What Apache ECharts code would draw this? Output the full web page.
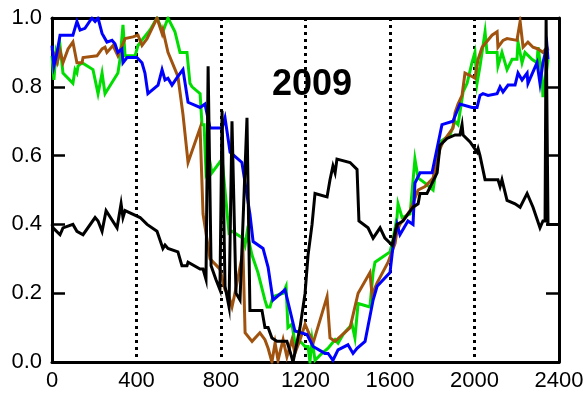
<!DOCTYPE html>
<html>
<head>
<meta charset="utf-8">
<script src="https://cdn.jsdelivr.net/npm/echarts@6/dist/echarts.min.js"></script>
<style>
  html, body { margin: 0; padding: 0; background: #fff; }
  #chart { width: 588px; height: 395px; }
</style>
</head>
<body>
<div id="chart"></div>
<script>
// Axis ticks
const xTicks = [0, 400, 800, 1200, 1600, 2000, 2400];
const yTicks = [0.0, 0.2, 0.4, 0.6, 0.8, 1.0];

// Black series
const blackX = [0,5,38,52,99,118,147,204,218,237,256,308,327,336,346,417,450,497,525,535,549,596,615,639,644,701,715,729,739,753,776,795,805,819,838,852,871,890,923,937,994,1008,1023,1041,1065,1112,1127,1141,1174,1198,1212,1231,1245,1302,1316,1330,1340,1349,1411,1444,1453,1496,1520,1553,1576,1610,1633,1662,1709,1733,1742,1775,1823,1837,1870,1908,1931,1941,1946,1979,2012,2017,2026,2050,2111,2121,2130,2154,2192,2216,2249,2277,2310,2324,2334,2339,2348,2400];
const blackY = [0.40,0.39,0.37,0.39,0.40,0.38,0.37,0.42,0.41,0.38,0.44,0.39,0.46,0.42,0.44,0.42,0.40,0.38,0.33,0.34,0.33,0.32,0.28,0.28,0.29,0.27,0.27,0.24,0.86,0.28,0.24,0.21,0.73,0.22,0.16,0.70,0.20,0.18,0.71,0.15,0.15,0.10,0.10,0.07,0.06,0.06,0.03,0.00,0.10,0.20,0.31,0.40,0.49,0.48,0.53,0.57,0.55,0.59,0.58,0.56,0.41,0.39,0.36,0.39,0.36,0.34,0.40,0.41,0.45,0.46,0.49,0.49,0.55,0.63,0.65,0.66,0.66,0.69,0.66,0.64,0.61,0.62,0.60,0.53,0.53,0.51,0.53,0.47,0.46,0.45,0.49,0.45,0.39,0.41,0.41,1.00,0.40,0.40];

// Green series
const greenX = [0,9,19,28,38,52,99,109,118,123,142,194,218,237,251,312,322,336,346,393,407,431,464,497,525,549,582,606,639,653,663,701,710,720,729,748,757,805,838,852,904,914,923,947,975,1008,1018,1032,1046,1094,1108,1117,1136,1150,1165,1183,1198,1212,1221,1231,1245,1269,1307,1340,1354,1378,1420,1434,1449,1505,1520,1529,1600,1614,1633,1638,1657,1695,1718,1733,1766,1804,1837,1884,1908,1922,1946,1965,1988,2002,2012,2026,2050,2059,2107,2111,2130,2154,2178,2201,2206,2225,2239,2272,2296,2301,2320,2324,2343,2348];
const greenY = [0.89,0.82,0.90,0.88,0.92,0.84,0.81,0.85,0.84,0.86,0.87,0.85,0.78,0.84,0.78,0.84,0.88,0.98,0.89,0.89,0.92,0.94,0.965,1.00,0.96,1.00,0.96,0.90,0.90,0.81,0.80,0.78,0.69,0.69,0.55,0.58,0.55,0.59,0.375,0.38,0.36,0.34,0.375,0.31,0.26,0.18,0.16,0.16,0.19,0.20,0.22,0.10,0.11,0.055,0.065,0.055,0.045,0.045,0.0,0.065,0.005,0.02,0.04,0.065,0.055,0.08,0.11,0.07,0.17,0.16,0.26,0.29,0.32,0.355,0.42,0.46,0.42,0.43,0.59,0.535,0.52,0.50,0.64,0.66,0.70,0.69,0.785,0.81,0.87,0.90,0.81,0.86,0.96,0.90,0.90,0.86,0.90,0.85,0.88,0.88,0.93,0.87,0.90,0.88,0.87,0.915,0.825,0.77,0.855,0.88];

// Brown series
const brownX = [0,24,38,52,76,99,118,142,147,213,237,251,260,289,312,322,346,383,407,426,450,497,521,525,549,596,620,644,701,715,748,795,819,833,852,866,904,914,947,984,1008,1023,1041,1056,1070,1094,1112,1136,1150,1174,1198,1236,1302,1316,1340,1411,1449,1505,1515,1539,1591,1624,1633,1647,1695,1733,1766,1804,1837,1851,1898,1908,1922,1941,1955,1988,2002,2017,2036,2083,2107,2111,2135,2154,2201,2216,2230,2253,2277,2301,2324,2343,2348];
const brownY = [0.91,0.87,0.905,0.87,0.91,0.93,0.87,0.87,0.885,0.89,0.91,0.915,0.90,0.92,0.89,0.905,0.94,0.945,0.95,0.92,0.94,1.00,0.955,0.965,0.90,0.83,0.72,0.58,0.68,0.43,0.30,0.27,0.21,0.20,0.16,0.20,0.32,0.085,0.06,0.085,0.065,0.04,0.0,0.055,0.005,0.065,0.015,0.065,0.025,0.065,0.11,0.055,0.19,0.07,0.06,0.10,0.20,0.26,0.195,0.23,0.29,0.345,0.38,0.40,0.44,0.50,0.51,0.535,0.62,0.64,0.68,0.725,0.75,0.775,0.84,0.83,0.825,0.88,0.915,0.95,0.96,0.915,0.935,0.94,0.935,0.99,0.915,0.93,0.915,0.91,0.90,0.915,0.905];

// Blue series
const blueX = [0,9,24,38,99,118,133,156,189,204,218,237,260,284,298,312,331,336,355,402,426,440,454,502,521,535,549,568,596,620,644,701,724,748,805,819,843,899,937,952,999,1023,1046,1103,1150,1207,1236,1292,1307,1330,1354,1401,1425,1444,1482,1520,1539,1600,1614,1633,1647,1685,1709,1718,1742,1799,1846,1898,1931,1988,2012,2026,2040,2064,2107,2121,2135,2159,2192,2206,2225,2249,2253,2296,2310,2324,2343,2348];
const blueY = [0.92,0.86,0.90,0.95,0.95,0.99,0.965,0.97,1.00,0.99,1.00,0.955,0.93,0.935,0.925,0.90,0.91,0.87,0.885,0.885,0.87,0.84,0.78,0.805,0.85,0.82,0.825,0.805,0.83,0.85,0.755,0.74,0.75,0.68,0.68,0.71,0.61,0.58,0.43,0.35,0.33,0.275,0.18,0.21,0.09,0.08,0.045,0.025,0.025,0.005,0.035,0.05,0.025,0.04,0.06,0.18,0.22,0.26,0.335,0.40,0.37,0.41,0.40,0.52,0.55,0.55,0.69,0.70,0.75,0.74,0.74,0.775,0.78,0.775,0.78,0.80,0.785,0.805,0.805,0.84,0.82,0.84,0.81,0.87,0.81,0.87,0.92,0.88];

const zip = (xs, ys) => xs.map((x, i) => [x, ys[i]]);

const FONT = '"Liberation Sans", Arial, sans-serif';

function lineSeries(name, color, xs, ys) {
  return {
    name: name,
    type: 'line',
    data: zip(xs, ys),
    symbol: 'none',
    smooth: false,
    animation: false,
    lineStyle: { color: color, width: 3, join: 'miter' },
    z: 3
  };
}

const chart = echarts.init(document.getElementById('chart'), null, { renderer: 'canvas' });

chart.setOption({
  animation: false,
  backgroundColor: '#ffffff',
  grid: { left: 52, right: 29, top: 18, bottom: 33, containLabel: false },
  title: {
    text: '2009',
    left: 307, top: 62,
    textAlign: 'center',
    textStyle: { fontFamily: FONT, fontWeight: 'bold', fontSize: 36, color: '#000' }
  },
  xAxis: [
    {
      type: 'value', min: xTicks[0], max: xTicks[xTicks.length - 1], interval: 400,
      axisLine: { show: true, onZero: false, lineStyle: { color: '#000', width: 3 } },
      axisTick: { show: false },
      axisLabel: { color: '#000', fontSize: 22, fontFamily: FONT, margin: 8,
                   formatter: v => String(v) },
      splitLine: { show: true, lineStyle: { color: '#000', width: 3, type: [3, 4] } }
    },
    {
      type: 'value', position: 'top', min: xTicks[0], max: xTicks[xTicks.length - 1], interval: 400,
      axisLine: { show: true, onZero: false, lineStyle: { color: '#000', width: 3 } },
      axisTick: { show: false }, axisLabel: { show: false }, splitLine: { show: false }
    }
  ],
  yAxis: [
    {
      type: 'value', min: yTicks[0], max: yTicks[yTicks.length - 1], interval: 0.2,
      axisLine: { show: true, onZero: false, lineStyle: { color: '#000', width: 3 } },
      axisTick: { show: true, inside: true, length: 13, lineStyle: { color: '#000', width: 2.5 } },
      axisLabel: { color: '#000', fontSize: 22, fontFamily: FONT, margin: 10,
                   formatter: v => v.toFixed(1) },
      splitLine: { show: false }
    },
    {
      type: 'value', position: 'right', min: yTicks[0], max: yTicks[yTicks.length - 1], interval: 0.2,
      axisLine: { show: true, onZero: false, lineStyle: { color: '#000', width: 3 } },
      axisTick: { show: true, inside: true, length: 13, lineStyle: { color: '#000', width: 2.5 } },
      axisLabel: { show: false }, splitLine: { show: false }
    }
  ],
  series: [
    lineSeries('green', '#00dd00', greenX, greenY),
    lineSeries('brown', '#a0520f', brownX, brownY),
    lineSeries('blue', '#0000ff', blueX, blueY),
    lineSeries('black', '#000000', blackX, blackY)
  ]
});
</script>
</body>
</html>
